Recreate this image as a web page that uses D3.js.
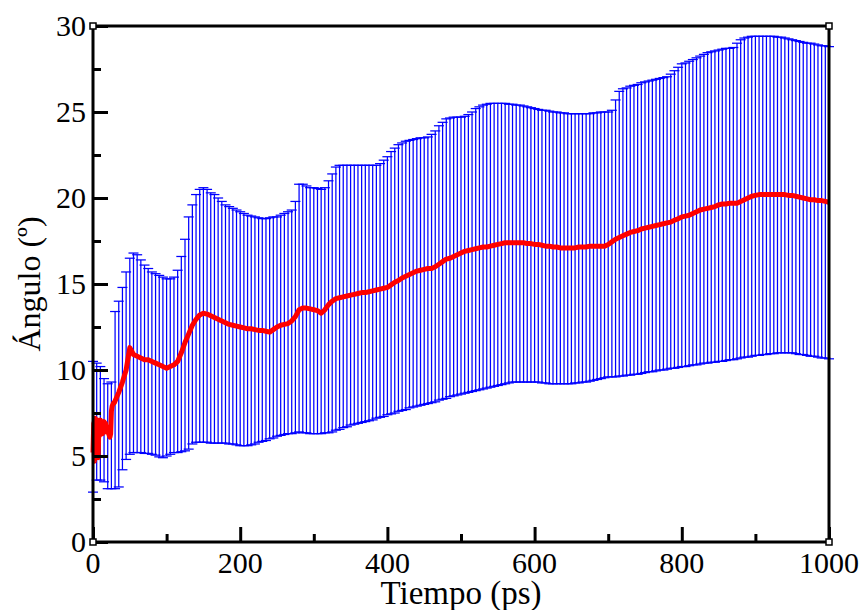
<!DOCTYPE html>
<html>
<head>
<meta charset="utf-8">
<script src="https://cdn.jsdelivr.net/npm/d3@7"></script>
<style>
  body { margin: 0; background: #fff; }
  text { font-family: "Liberation Serif", "Times New Roman", serif; }
</style>
</head>
<body>
<svg width="865" height="610"></svg>
<script>
// Tiempo de cada barra de error (ps), una cada 5 ps
var tiempo = d3.range(0, 1001, 5);

// Media + desviación (borde superior de las barras)
var superior = [
  10.5, 10.4, 10.2, 9.5, 9.2, 9.3, 13.4, 14.0, 14.8, 15.7,
  16.5, 16.8, 16.7, 16.4, 16.1, 15.9, 15.7, 15.6, 15.5, 15.4,
  15.3, 15.3, 15.4, 15.8, 16.6, 17.6, 18.9, 19.6, 20.2, 20.5,
  20.6, 20.5, 20.3, 20.2, 20.0, 19.8, 19.6, 19.5, 19.4, 19.3,
  19.2, 19.1, 19.0, 18.95, 18.9, 18.85, 18.8, 18.8, 18.85, 18.9,
  18.9, 19.0, 19.1, 19.2, 19.3, 19.8, 20.8, 20.8, 20.7, 20.6,
  20.6, 20.55, 20.5, 20.6, 21.0, 21.4, 21.8, 21.9, 21.9, 21.9,
  21.9, 21.9, 21.9, 21.9, 21.9, 21.9, 21.9, 21.9, 22.0, 22.2,
  22.4, 22.7, 22.9, 23.1, 23.2, 23.3, 23.35, 23.4, 23.45, 23.5,
  23.5, 23.55, 23.7, 23.9, 24.2, 24.4, 24.6, 24.65, 24.7, 24.7,
  24.7, 24.75, 24.85, 25.0, 25.2, 25.3, 25.4, 25.45, 25.5, 25.5,
  25.5, 25.5, 25.5, 25.45, 25.45, 25.4, 25.4, 25.35, 25.3, 25.25,
  25.2, 25.15, 25.1, 25.1, 25.05, 25.0, 25.0, 24.95, 24.95, 24.9,
  24.9, 24.9, 24.9, 24.9, 24.9, 24.9, 24.95, 24.95, 25.0, 25.0,
  25.0, 25.1, 25.7, 26.2, 26.35, 26.4, 26.5, 26.55, 26.6, 26.7,
  26.75, 26.8, 26.85, 26.9, 26.95, 27.0, 27.05, 27.2, 27.4, 27.6,
  27.8, 27.85, 27.95, 28.05, 28.15, 28.25, 28.35, 28.45, 28.5, 28.55,
  28.6, 28.65, 28.7, 28.7, 28.75, 29.0, 29.2, 29.3, 29.35, 29.4,
  29.4, 29.4, 29.4, 29.4, 29.4, 29.4, 29.35, 29.35, 29.3, 29.25,
  29.2, 29.15, 29.1, 29.05, 29.0, 29.0, 28.95, 28.9, 28.85, 28.85,
  28.8
];

// Media - desviación (borde inferior de las barras)
var inferior = [
  2.9, 3.6, 3.6, 3.5, 3.1, 3.1, 3.1, 3.2, 4.2, 4.8,
  5.1, 5.2, 5.2, 5.2, 5.15, 5.15, 5.1, 5.05, 4.95, 4.9,
  5.0, 5.1, 5.2, 5.2, 5.25, 5.3, 5.4, 5.7, 5.8, 5.8,
  5.8, 5.8, 5.75, 5.75, 5.75, 5.75, 5.75, 5.7, 5.7, 5.65,
  5.6, 5.6, 5.6, 5.65, 5.7, 5.8, 5.85, 5.9, 6.0, 6.05,
  6.15, 6.2, 6.25, 6.3, 6.3, 6.35, 6.4, 6.35, 6.35, 6.3,
  6.3, 6.3, 6.3, 6.35, 6.35, 6.4, 6.5, 6.55, 6.65, 6.7,
  6.8, 6.85, 6.9, 6.95, 7.0, 7.05, 7.1, 7.2, 7.25, 7.3,
  7.4, 7.45, 7.5, 7.6, 7.65, 7.7, 7.8, 7.85, 7.9, 7.95,
  8.0, 8.05, 8.1, 8.15, 8.25, 8.3, 8.35, 8.45, 8.5, 8.55,
  8.6, 8.65, 8.7, 8.75, 8.8, 8.85, 8.9, 8.95, 9.0, 9.05,
  9.1, 9.15, 9.2, 9.25, 9.3, 9.3, 9.3, 9.3, 9.3, 9.3,
  9.3, 9.3, 9.25, 9.25, 9.2, 9.2, 9.2, 9.2, 9.2, 9.2,
  9.2, 9.25, 9.25, 9.3, 9.3, 9.35, 9.4, 9.45, 9.5, 9.55,
  9.6, 9.6, 9.6, 9.65, 9.65, 9.7, 9.7, 9.75, 9.75, 9.8,
  9.85, 9.9, 9.9, 9.95, 10.0, 10.0, 10.05, 10.1, 10.1, 10.15,
  10.2, 10.2, 10.25, 10.3, 10.3, 10.35, 10.4, 10.4, 10.45, 10.45,
  10.5, 10.5, 10.55, 10.6, 10.6, 10.65, 10.7, 10.75, 10.75, 10.8,
  10.85, 10.85, 10.9, 10.9, 10.95, 10.95, 11.0, 11.0, 11.0, 11.0,
  11.0, 10.95, 10.9, 10.9, 10.85, 10.8, 10.8, 10.75, 10.7, 10.7,
  10.65
];

// Media: primeros 30 ps cada 1 ps, luego cada 5 ps
var tiempoInicio = d3.range(0, 30, 1);
var mediaInicio = [
  5.2, 6.9, 4.7, 7.2, 5.4, 6.6, 7.1, 4.9, 6.8, 6.2,
  7.1, 6.5, 6.9, 6.3, 6.8, 7.0, 6.6, 6.9, 6.4, 6.7,
  6.5, 6.4, 6.2, 6.1, 6.3, 7.6, 7.9, 8.0, 8.1, 8.1
];
var tiempoResto = d3.range(30, 1001, 5);
var mediaResto = [
  8.2, 8.7, 9.3, 10.0,
  11.3, 10.9, 10.8, 10.7, 10.6, 10.6, 10.5, 10.4, 10.3, 10.2,
  10.1, 10.2, 10.3, 10.5, 11.0, 11.6, 12.1, 12.6, 12.95, 13.2,
  13.3, 13.25, 13.15, 13.05, 12.95, 12.85, 12.75, 12.65, 12.6, 12.55,
  12.5, 12.45, 12.4, 12.4, 12.35, 12.3, 12.3, 12.25, 12.2, 12.35,
  12.5, 12.6, 12.65, 12.7, 12.85, 13.1, 13.5, 13.6, 13.6, 13.55,
  13.5, 13.45, 13.3, 13.5, 13.8, 14.0, 14.15, 14.2, 14.25, 14.3,
  14.35, 14.4, 14.45, 14.5, 14.5, 14.55, 14.6, 14.65, 14.7, 14.75,
  14.8, 14.95, 15.1, 15.2, 15.35, 15.45, 15.55, 15.65, 15.75, 15.8,
  15.85, 15.9, 15.9, 16.0, 16.15, 16.3, 16.45, 16.5, 16.6, 16.7,
  16.8, 16.9, 16.95, 17.0, 17.05, 17.1, 17.15, 17.15, 17.2, 17.25,
  17.3, 17.35, 17.4, 17.4, 17.4, 17.4, 17.4, 17.4, 17.35, 17.35,
  17.3, 17.3, 17.25, 17.2, 17.2, 17.15, 17.15, 17.1, 17.1, 17.1,
  17.1, 17.1, 17.15, 17.15, 17.15, 17.2, 17.2, 17.2, 17.2, 17.2,
  17.3, 17.45, 17.6, 17.7, 17.8, 17.9, 18.0, 18.05, 18.1, 18.2,
  18.25, 18.3, 18.35, 18.4, 18.45, 18.5, 18.55, 18.6, 18.7, 18.8,
  18.9, 18.95, 19.0, 19.1, 19.2, 19.3, 19.35, 19.4, 19.45, 19.5,
  19.6, 19.65, 19.65, 19.7, 19.7, 19.7, 19.8, 19.9, 20.0, 20.1,
  20.15, 20.2, 20.2, 20.2, 20.2, 20.2, 20.2, 20.2, 20.2, 20.15,
  20.15, 20.1, 20.05, 20.0, 19.95, 19.9, 19.9, 19.85, 19.85, 19.8,
  19.75
];

var xTicks = [0, 200, 400, 600, 800, 1000];
var yTicks = [0, 5, 10, 15, 20, 25, 30];

var svg = d3.select("svg"),
    margin = {top: 26, right: 36, bottom: 68, left: 93},
    width = +svg.attr("width") - margin.left - margin.right,
    height = +svg.attr("height") - margin.top - margin.bottom;

var x = d3.scaleLinear().domain([0, 1000]).range([0, width]);
var y = d3.scaleLinear().domain([0, 30]).range([height, 0]);

var g = svg.append("g").attr("transform", "translate(" + margin.left + "," + margin.top + ")");

var barras = tiempo.map(function(t, i) { return {t: t, lo: inferior[i], hi: superior[i]}; });
var media = tiempoInicio.map(function(t, i) { return {t: t, v: mediaInicio[i]}; })
  .concat(tiempoResto.map(function(t, i) { return {t: t, v: mediaResto[i]}; }));

// Barras de error
var eb = g.append("g").attr("stroke", "#0000ff").attr("stroke-width", 1.25);
eb.selectAll("line.v").data(barras).enter().append("line")
    .attr("class", "v")
    .attr("x1", function(d) { return x(d.t); })
    .attr("x2", function(d) { return x(d.t); })
    .attr("y1", function(d) { return y(d.lo); })
    .attr("y2", function(d) { return y(d.hi); });
eb.selectAll("line.top").data(barras).enter().append("line")
    .attr("class", "top")
    .attr("x1", function(d) { return x(d.t) - 5; })
    .attr("x2", function(d) { return x(d.t) + 5; })
    .attr("y1", function(d) { return y(d.hi); })
    .attr("y2", function(d) { return y(d.hi); });
eb.selectAll("line.bot").data(barras).enter().append("line")
    .attr("class", "bot")
    .attr("x1", function(d) { return x(d.t) - 5; })
    .attr("x2", function(d) { return x(d.t) + 5; })
    .attr("y1", function(d) { return y(d.lo); })
    .attr("y2", function(d) { return y(d.lo); });

// Línea de la media
g.append("path")
    .datum(media)
    .attr("fill", "none")
    .attr("stroke", "#ff0000")
    .attr("stroke-width", 5)
    .attr("stroke-linejoin", "round")
    .attr("d", d3.line().x(function(d) { return x(d.t); }).y(function(d) { return y(d.v); }));

// Ejes con marcas hacia dentro
var xAxis = g.append("g")
    .attr("transform", "translate(0," + height + ")")
    .call(d3.axisBottom(x).tickValues(d3.range(0, 1001, 100)).tickSize(-8).tickFormat(""));
xAxis.selectAll(".tick line")
    .attr("y2", function(d) { return d % 200 === 0 ? -15 : -8; });
var yAxis = g.append("g")
    .call(d3.axisLeft(y).tickValues(d3.range(0, 30.1, 2.5)).tickSize(-8).tickFormat(""));
yAxis.selectAll(".tick line")
    .attr("x2", function(d) { return d % 5 === 0 ? 15 : 8; });
g.selectAll(".domain").remove();
g.selectAll(".tick line").attr("stroke", "#000").attr("stroke-width", 3);

g.selectAll(".xlab").data(xTicks).enter().append("text")
    .attr("x", function(d) { return x(d); })
    .attr("y", height + 31)
    .attr("text-anchor", "middle")
    .attr("font-size", 30)
    .text(function(d) { return d; });
g.selectAll(".ylab").data(yTicks).enter().append("text")
    .attr("x", -7)
    .attr("y", function(d) { return y(d) + 10; })
    .attr("text-anchor", "end")
    .attr("font-size", 30)
    .text(function(d) { return d; });

// Marco
g.append("rect")
    .attr("width", width).attr("height", height)
    .attr("fill", "none").attr("stroke", "#000").attr("stroke-width", 3);
var esquinas = [[0, 0], [width, 0], [0, height], [width, height]];
g.selectAll(".esq").data(esquinas).enter().append("rect")
    .attr("x", function(d) { return d[0] - 3; })
    .attr("y", function(d) { return d[1] - 3; })
    .attr("width", 6).attr("height", 6)
    .attr("fill", "#fff").attr("stroke", "#000").attr("stroke-width", 1.5);

// Títulos
svg.append("text")
    .attr("x", margin.left + width / 2)
    .attr("y", 604)
    .attr("text-anchor", "middle")
    .attr("font-size", 33)
    .text("Tiempo (ps)");
svg.append("text")
    .attr("transform", "translate(40," + (margin.top + height / 2) + ") rotate(-90)")
    .attr("text-anchor", "middle")
    .attr("font-size", 32)
    .text("Ángulo (º)");
</script>
</body>
</html>
